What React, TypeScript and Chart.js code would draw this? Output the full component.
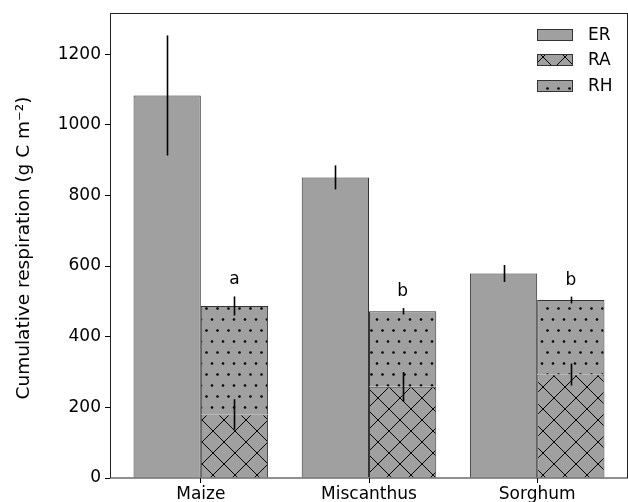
import { useEffect, useRef } from "react";
import { Chart, registerables } from "chart.js";

Chart.register(...registerables);

const categories = ["Maize", "Miscanthus", "Sorghum"];
const erValues = [1083, 851, 579];
const erErrors = [170, 34, 24];
const raValues = [180, 258, 293];
const raErrors = [43, 42, 31];
const rhValues = [307, 214, 211];
const rhErrors = [27, 9, 9.5];
const letters = ["a", "b", "b"];
const yTicks = [0, 200, 400, 600, 800, 1000, 1200];
const seriesNames = ["ER", "RA", "RH"];
const yTitle = "Cumulative respiration (g C m\u207B\u00B2)";

const FONT = "'DejaVu Sans', sans-serif";
const FS = 17;
const FS_TITLE = 18.5;
const GRAY = "#a0a0a0";
const EDGE = "#333333";

function makeCross(): CanvasPattern | string {
  const c = document.createElement("canvas");
  c.width = 22;
  c.height = 22;
  const g = c.getContext("2d");
  if (!g) return GRAY;
  g.fillStyle = GRAY;
  g.fillRect(0, 0, 22, 22);
  g.strokeStyle = "#000";
  g.lineWidth = 1;
  g.beginPath();
  g.moveTo(-1, -1);
  g.lineTo(23, 23);
  g.moveTo(-1, 23);
  g.lineTo(23, -1);
  g.stroke();
  const p = g.createPattern(c, "repeat");
  if (!p) return GRAY;
  p.setTransform(new DOMMatrix().translate(15, 13));
  return p;
}

function makeDots(): CanvasPattern | string {
  const c = document.createElement("canvas");
  c.width = 22;
  c.height = 22;
  const g = c.getContext("2d");
  if (!g) return GRAY;
  g.fillStyle = GRAY;
  g.fillRect(0, 0, 22, 22);
  g.fillStyle = "#000";
  const pts = [
    [2.5, 2.5],
    [13.5, 2.5],
    [8, 13.5],
    [19, 13.5],
  ];
  for (const [x, y] of pts) {
    g.beginPath();
    g.arc(x, y, 1.3, 0, Math.PI * 2);
    g.fill();
  }
  const p = g.createPattern(c, "repeat");
  if (!p) return GRAY;
  p.setTransform(new DOMMatrix().translate(6, 20));
  return p;
}

export default function App() {
  const ref = useRef<HTMLCanvasElement | null>(null);

  useEffect(() => {
    document.body.style.margin = "0";
    const canvas = ref.current;
    if (!canvas) return;
    const cross = makeCross();
    const dots = makeDots();
    const fills = [GRAY, cross, dots];

    const overlay = {
      id: "overlay",
      afterDatasetsDraw(chart: any) {
        const ctx = chart.ctx as CanvasRenderingContext2D;
        const ys = chart.scales.y;
        const ca = chart.chartArea;
        const tops = [
          erValues,
          raValues,
          raValues.map((v, i) => v + rhValues[i]),
        ];
        const errs = [erErrors, raErrors, rhErrors];
        ctx.save();
        ctx.strokeStyle = "#000";
        ctx.lineWidth = 1.6;
        for (let d = 0; d < 3; d++) {
          const meta = chart.getDatasetMeta(d);
          meta.data.forEach((el: any, i: number) => {
            const x = Math.round(el.x) + 0.5;
            ctx.beginPath();
            ctx.moveTo(x, ys.getPixelForValue(tops[d][i] + errs[d][i]));
            ctx.lineTo(x, ys.getPixelForValue(tops[d][i] - errs[d][i]));
            ctx.stroke();
          });
        }
        // letters
        ctx.fillStyle = "#000";
        ctx.font = `${FS}px ${FONT}`;
        ctx.textAlign = "center";
        ctx.textBaseline = "alphabetic";
        const metaRH = chart.getDatasetMeta(2);
        metaRH.data.forEach((el: any, i: number) => {
          const yTop = ys.getPixelForValue(tops[2][i] + rhErrors[i]);
          ctx.fillText(letters[i], el.x, yTop - 12);
        });
        // frame
        ctx.strokeStyle = "#222";
        ctx.lineWidth = 1;
        ctx.strokeRect(
          Math.round(ca.left) + 0.5,
          Math.round(ca.top) - 0.5,
          Math.round(ca.right - ca.left) - 1,
          Math.round(ca.bottom - ca.top) + 0.5
        );
        // y title
        ctx.save();
        ctx.translate(24, 248);
        ctx.rotate(-Math.PI / 2);
        ctx.textAlign = "center";
        ctx.textBaseline = "middle";
        ctx.font = `${FS_TITLE}px ${FONT}`;
        ctx.fillText(yTitle, 0, 0);
        ctx.restore();
        // legend
        const rows = [35, 60, 86];
        ctx.font = `${FS}px ${FONT}`;
        for (let k = 0; k < 3; k++) {
          const cy = rows[k];
          ctx.fillStyle = fills[k] as any;
          ctx.fillRect(537, cy - 6, 36, 12);
          ctx.strokeStyle = EDGE;
          ctx.lineWidth = 1;
          ctx.strokeRect(537.5, cy - 5.5, 35, 11);
          ctx.fillStyle = "#000";
          ctx.textAlign = "left";
          ctx.textBaseline = "middle";
          ctx.fillText(seriesNames[k], 588, cy + 1);
        }
        ctx.restore();
      },
    };

    const mk = (vals: number[]) => vals.map((v, i) => ({ x: i, y: v }));
    const common = {
      borderColor: EDGE,
      borderWidth: 1,
      categoryPercentage: 0.8,
      barPercentage: 1,
    };

    const chart = new Chart(canvas, {
      type: "bar",
      data: {
        datasets: [
          { label: seriesNames[0], data: mk(erValues), stack: "er", backgroundColor: GRAY, ...common },
          { label: seriesNames[1], data: mk(raValues), stack: "r", backgroundColor: cross as any, ...common },
          { label: seriesNames[2], data: mk(rhValues), stack: "r", backgroundColor: dots as any, ...common },
        ],
      } as any,
      options: {
        responsive: false,
        animation: false,
        events: [],
        layout: { padding: { top: 12, right: 0, left: 0, bottom: 0 } },
        plugins: { legend: { display: false }, tooltip: { enabled: false } },
        scales: {
          x: {
            type: "linear",
            min: -0.54,
            max: 2.54,
            offset: false,
            border: { display: false },
            grid: { drawOnChartArea: false, offset: false, tickLength: 5, color: "#000", lineWidth: 1 },
            afterBuildTicks: (s: any) => {
              s.ticks = categories.map((_, i) => ({ value: i }));
            },
            afterFit: (s: any) => {
              s.height = 24;
            },
            ticks: {
              color: "#000",
              font: { family: FONT, size: FS },
              padding: 1,
              maxRotation: 0,
              autoSkip: false,
              callback: (v: any) => categories[Math.round(Number(v))] ?? "",
            },
          },
          y: {
            stacked: true,
            min: 0,
            max: 1313,
            border: { display: false },
            grid: { drawOnChartArea: false, tickLength: 5, color: "#000", lineWidth: 1 },
            afterBuildTicks: (s: any) => {
              s.ticks = yTicks.map((v) => ({ value: v }));
            },
            afterFit: (s: any) => {
              s.width = 110;
            },
            ticks: {
              color: "#000",
              font: { family: FONT, size: FS },
              padding: 4,
              callback: (v: any) => String(v),
            },
          },
        } as any,
      },
      plugins: [overlay],
    });

    return () => chart.destroy();
  }, []);

  return (
    <div style={{ width: 628, height: 502, background: "#fff" }}>
      <canvas ref={ref} width={628} height={502} style={{ display: "block" }} />
    </div>
  );
}
